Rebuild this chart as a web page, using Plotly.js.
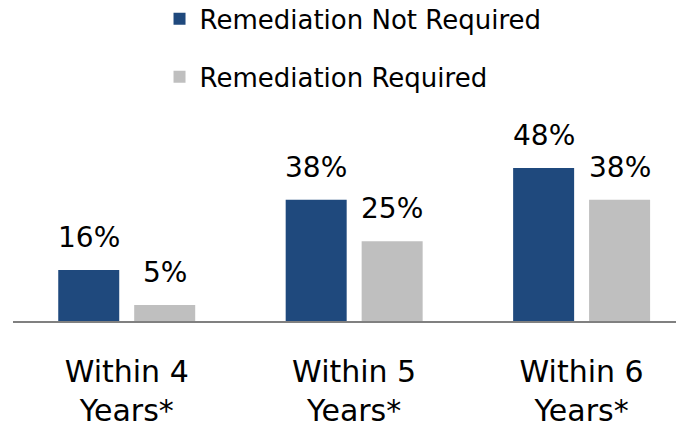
<!DOCTYPE html>
<html>
<head>
<meta charset="utf-8">
<script src="https://cdn.plot.ly/plotly-3.0.1.min.js"></script>
<style>html,body{margin:0;padding:0;background:#fff;}#chart{width:677px;height:428px;}</style>
</head>
<body>
<div id="chart"></div>
<script>
const categories = ["Within 4<br>Years*", "Within 5<br>Years*", "Within 6<br>Years*"];
const seriesNames = ["Remediation Not Required", "Remediation Required"];
const notRequired = [16, 38, 48];
const required = [5, 25, 38];
const seriesValues = [notRequired, required];
const seriesColors = ["#1F497D", "#BFBFBF"];

const FONT = "DejaVu Sans, sans-serif";
const BARGAP = 0.332;
const BARGROUPGAP = 0.197;

const traces = seriesValues.map((vals, i) => ({
  type: "bar",
  name: seriesNames[i],
  legendgroup: "g" + i,
  x: categories,
  y: vals,
  marker: {color: seriesColors[i]},
  hoverinfo: "none"
}));

// value labels above bars, positioned from the data and the group layout
const annotations = [];
const slot = (1 - BARGAP) / seriesValues.length;
seriesValues.forEach((vals, i) => {
  const off = -((1 - BARGAP) / 2) + slot * (i + 0.5);
  vals.forEach((v, j) => {
    annotations.push({
      x: j + off, y: v, xref: "x", yref: "y",
      text: v + "%", showarrow: false,
      yanchor: "bottom", yshift: 14,
      font: {family: FONT, size: 28, color: "#000"}
    });
  });
});

const layout = {
  width: 677, height: 428,
  margin: {l: 13, r: 1, t: 100, b: 107, autoexpand: false},
  paper_bgcolor: "#fff", plot_bgcolor: "#fff",
  barmode: "group",
  bargap: BARGAP,
  bargroupgap: BARGROUPGAP,
  showlegend: true,
  legend: {
    x: 0.221, xanchor: "left",
    y: 1.473, yanchor: "top",
    font: {family: FONT, size: 26, color: "#000"},
    tracegroupgap: 21,
    bgcolor: "rgba(0,0,0,0)"
  },
  xaxis: {
    type: "category",
    range: [-0.5, 2.415],
    showline: true, linecolor: "#808080", linewidth: 2,
    ticks: "outside", ticklen: 23, tickcolor: "rgba(0,0,0,0)",
    tickfont: {family: FONT, size: 30, color: "#000"},
    showgrid: false, zeroline: false
  },
  yaxis: {
    range: [0, 69.3],
    visible: false,
    showgrid: false, zeroline: false
  },
  annotations: annotations
};

Plotly.newPlot("chart", traces, layout, {displayModeBar: false, staticPlot: true});
</script>
</body>
</html>
